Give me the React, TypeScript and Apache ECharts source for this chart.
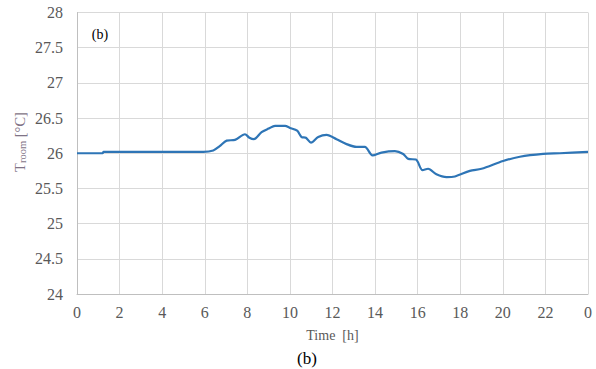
import React, { useEffect, useRef } from "react";
import * as echarts from "echarts";

const hours = [0, 1.2, 1.25, 5.93, 6.4, 6.7, 7.03, 7.42, 7.89, 8.1, 8.31, 8.67, 9.0, 9.3, 9.77, 10.0, 10.34, 10.55, 10.75, 10.99, 11.33, 11.72, 12.19, 12.66, 13.13, 13.52, 13.88, 14.3, 14.93, 15.32, 15.56, 15.92, 16.23, 16.49, 16.88, 17.36, 17.75, 18.45, 19.0, 20.01, 20.8, 21.89, 22.68, 24.0];
const troom = [26.0, 26.0, 26.02, 26.02, 26.04, 26.1, 26.18, 26.19, 26.27, 26.22, 26.2, 26.3, 26.35, 26.39, 26.39, 26.36, 26.32, 26.23, 26.22, 26.15, 26.23, 26.26, 26.2, 26.13, 26.09, 26.09, 25.97, 26.01, 26.03, 25.99, 25.92, 25.91, 25.76, 25.78, 25.7, 25.66, 25.67, 25.75, 25.78, 25.89, 25.95, 25.99, 26.0, 26.02];

const FONT = "Liberation Serif";

export default function App() {
  const ref = useRef<HTMLDivElement>(null);
  useEffect(() => {
    const chart = echarts.init(ref.current!, undefined, { renderer: "svg" });
    chart.setOption({
      animation: false,
      backgroundColor: "#ffffff",
      textStyle: { fontFamily: FONT },
      grid: { left: 77, right: 8, top: 12.5, bottom: 75, containLabel: false },
      xAxis: {
        type: "value",
        min: 0,
        max: 24,
        interval: 2,
        name: "Time  [h]",
        nameLocation: "middle",
        nameGap: 34,
        nameTextStyle: { fontFamily: FONT, fontSize: 14, color: "#595959" },
        axisLine: { show: true, lineStyle: { color: "#bfbfbf", width: 1 } },
        axisTick: { show: false },
        splitLine: { show: true, lineStyle: { color: "#d9d9d9", width: 1 } },
        axisLabel: {
          fontFamily: FONT,
          fontSize: 16,
          color: "#595959",
          margin: 10,
          formatter: (v: number) => (v === 24 ? "0" : String(v)),
        },
      },
      yAxis: {
        type: "value",
        min: 24,
        max: 28,
        interval: 0.5,
        axisLine: { show: true, lineStyle: { color: "#bfbfbf", width: 1 } },
        axisTick: { show: false },
        splitLine: { show: true, lineStyle: { color: "#d9d9d9", width: 1 } },
        axisLabel: { fontFamily: FONT, fontSize: 16, color: "#595959", margin: 14 },
      },
      graphic: [
        {
          type: "text",
          x: 20,
          y: 142,
          rotation: Math.PI / 2,
          style: {
            text: "{a|T}{b|room}{a| [°C]}",
            align: "center",
            verticalAlign: "middle",
            fill: "#7f7386",
            rich: {
              a: { fontFamily: FONT, fontSize: 14.5, fill: "#7f7386", lineHeight: 16 },
              b: { fontFamily: FONT, fontSize: 10.5, fill: "#7f7386", lineHeight: 16, verticalAlign: "bottom", padding: [6, 0, 0, 0] },
            },
          },
        },
        {
          type: "text",
          x: 100,
          y: 34,
          style: { text: "(b)", fontFamily: FONT, fontSize: 14, fill: "#000000", align: "center", verticalAlign: "middle" },
        },
        {
          type: "text",
          x: 307,
          y: 358,
          style: { text: "(b)", fontFamily: FONT, fontSize: 17, fill: "#000000", align: "center", verticalAlign: "middle" },
        },
      ],
      series: [
        {
          type: "line",
          data: hours.map((h, i) => [h, troom[i]]),
          showSymbol: false,
          smooth: 0.3,
          lineStyle: { color: "#2e75b6", width: 2.2 },
        },
      ],
    });
    return () => chart.dispose();
  }, []);
  return <div ref={ref} style={{ width: 596, height: 369, position: "absolute", left: 0, top: 0 }} />;
}
